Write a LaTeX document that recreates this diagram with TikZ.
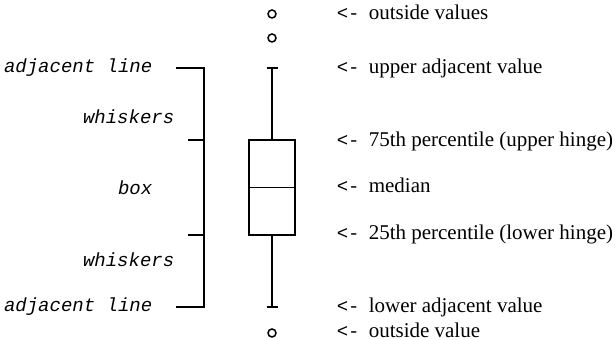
\documentclass[tikz,border=0pt]{standalone}
\usepackage{fontspec}
\setmainfont{Liberation Serif}
\setmonofont{Liberation Mono}
\usetikzlibrary{calc}
\tikzset{
  plotline/.style={
    line width=0.75pt,
    line cap=butt,
    line join=miter
  },
  box-part/.style={plotline, draw=black, minimum width=23pt, minimum height=47.5pt, inner sep=0pt},
  out-dot/.style={circle, plotline, draw=black, minimum size=4pt, inner sep=0pt},
  part-label/.style={anchor=east, inner sep=0pt, font=\fontsize{9.5}{11}\selectfont\ttfamily\itshape},
  arrow-label/.style={anchor=west, inner sep=0pt, text height=1.3ex, text depth=0pt, font=\fontsize{9.5}{11}\selectfont\ttfamily},
  value-label/.style={anchor=west, inner sep=0pt, text height=1.3ex, text depth=0pt, font=\fontsize{10.5}{12}\selectfont}
}
\newcommand{\capwidth}{5.5}

\begin{document}
\begin{tikzpicture}[x=0.5pt, y=-0.5pt, plotline]
  \useasboundingbox (0,0) rectangle (616,340);
  % Box plot
  \node[box-part] (Box) at (272,187.5) {};
  \coordinate (UpperAdj) at (272,68);
  \coordinate (LowerAdj) at (272,307);
  \node[out-dot] (Out1) at (272,14) {};
  \node[out-dot] (Out2) at (272,38) {};
  \node[out-dot] (Out3) at (272,333) {};
  % Whiskers and median
  \draw (Box.north) -- (UpperAdj);
  \draw (Box.south) -- (LowerAdj);
  \draw (Box.west) -- (Box.east);
  \draw ($(UpperAdj)+(-\capwidth,0)$) -- ($(UpperAdj)+(\capwidth,0)$);
  \draw ($(LowerAdj)+(-\capwidth,0)$) -- ($(LowerAdj)+(\capwidth,0)$);
  % Bracket
  \coordinate (BrTop) at (204,68);
  \coordinate (BrBot) at (204,307);
  \coordinate (BrHi) at (204,140);
  \coordinate (BrLo) at (204,235);
  \draw ($(BrTop)+(-28,0)$) -- (BrTop) -- (BrBot) -- ($(BrBot)+(-28,0)$);
  \draw ($(BrHi)+(-16,0)$) -- (BrHi);
  \draw ($(BrLo)+(-16,0)$) -- (BrLo);
  % Left labels
  \node[part-label] (AdjTop) at (153,68) {adjacent line};
  \node[part-label] (WhiskTop) at (175,117) {whiskers};
  \node[part-label] (BoxLab) at (153,188) {box};
  \node[part-label] (WhiskBot) at (175,260) {whiskers};
  \node[part-label] (AdjBot) at (153,307) {adjacent line};
  % Right labels
  \foreach \yy/\txt [count=\i] in {14/outside values, 68/upper adjacent value,
      141/75th percentile (upper hinge), 187/median,
      234/25th percentile (lower hinge), 307/lower adjacent value,
      332/outside value}{
    \node[arrow-label] (Arr\i) at (336,\yy) {<-};
    \node[value-label] (Val\i) at (368,\yy) {\txt};
  }

\end{tikzpicture}
\end{document}
